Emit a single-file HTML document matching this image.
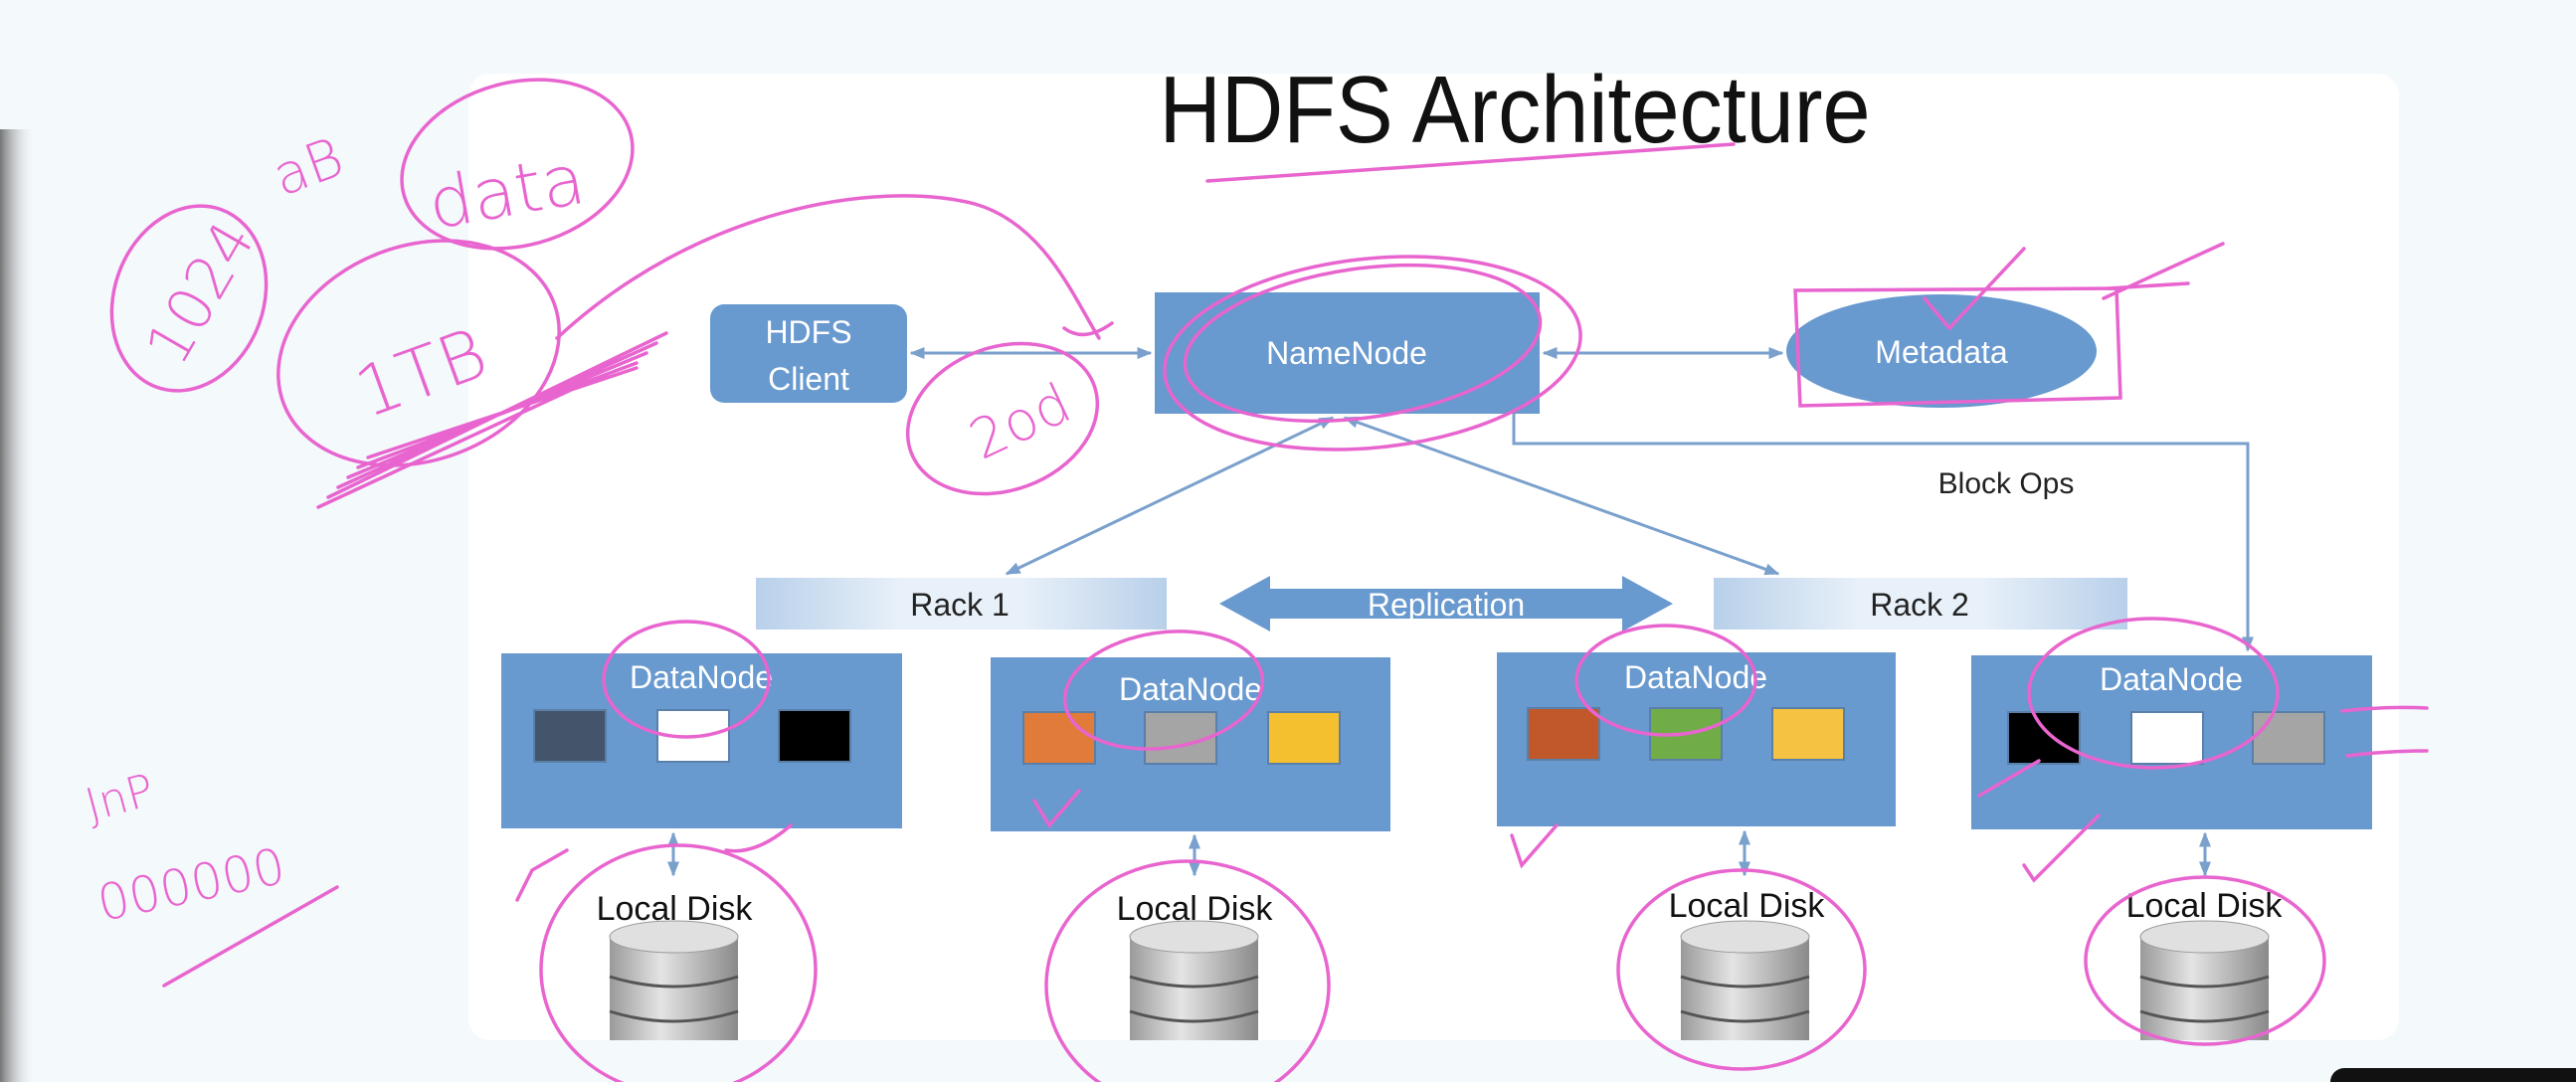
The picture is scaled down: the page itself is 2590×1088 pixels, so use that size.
<!DOCTYPE html>
<html><head><meta charset="utf-8"><style>
html,body{margin:0;padding:0;width:2590px;height:1088px;overflow:hidden;background:#f4f9fc}
svg{display:block}
</style></head><body>
<svg width="2590" height="1088" viewBox="0 0 2590 1088" xmlns="http://www.w3.org/2000/svg">
<defs>
<linearGradient id="lg" x1="0" x2="1"><stop offset="0" stop-color="#555"/><stop offset="1" stop-color="#f4f9fc" stop-opacity="0"/></linearGradient>
<linearGradient id="rack" x1="0" x2="1"><stop offset="0" stop-color="#b8d0ea"/><stop offset="0.35" stop-color="#e8f0f9"/><stop offset="0.65" stop-color="#e8f0f9"/><stop offset="1" stop-color="#b8d0ea"/></linearGradient>
<linearGradient id="disk" x1="0" x2="1"><stop offset="0" stop-color="#9a9a9a"/><stop offset="0.4" stop-color="#e4e4e4"/><stop offset="1" stop-color="#8a8a8a"/></linearGradient>
<marker id="ar" viewBox="0 0 10 10" refX="9" refY="5" markerWidth="5" markerHeight="5" orient="auto-start-reverse"><path d="M0,1 L10,5 L0,9 z" fill="#7aa0cc"/></marker>
</defs>
<rect x="0" y="130" width="36" height="958" fill="url(#lg)" opacity="0.8"/>
<rect x="471" y="74" width="1941" height="972" rx="22" fill="#ffffff"/>
<text x="1523" y="143" font-family="Liberation Sans, sans-serif" font-size="96" text-anchor="middle" fill="#111" textLength="715" lengthAdjust="spacingAndGlyphs">HDFS Architecture</text>

<g stroke="#7aa0cc" stroke-width="3" fill="none">
<line x1="916" y1="355" x2="1157" y2="355" marker-start="url(#ar)" marker-end="url(#ar)"/>
<line x1="1552" y1="355" x2="1792" y2="355" marker-start="url(#ar)" marker-end="url(#ar)"/>
<polyline points="1522,416 1522,446 2260,446 2260,654" marker-end="url(#ar)"/>
<line x1="1340" y1="420" x2="1012" y2="577" marker-start="url(#ar)" marker-end="url(#ar)"/>
<line x1="1352" y1="420" x2="1788" y2="577" marker-start="url(#ar)" marker-end="url(#ar)"/>
<line x1="677" y1="838" x2="677" y2="880" marker-start="url(#ar)" marker-end="url(#ar)"/>
<line x1="1201" y1="840" x2="1201" y2="880" marker-start="url(#ar)" marker-end="url(#ar)"/>
<line x1="1754" y1="836" x2="1754" y2="880" marker-start="url(#ar)" marker-end="url(#ar)"/>
<line x1="2217" y1="838" x2="2217" y2="880" marker-start="url(#ar)" marker-end="url(#ar)"/>
</g>
<text x="2017" y="496" font-family="Liberation Sans, sans-serif" font-size="30" text-anchor="middle" fill="#222">Block Ops</text>

<g fill="#6899cf">
<rect x="714" y="306" width="198" height="99" rx="14"/>
<rect x="1161" y="294" width="387" height="122"/>
<ellipse cx="1952" cy="353" rx="156" ry="57"/>
<rect x="504" y="657" width="403" height="176"/>
<rect x="996" y="661" width="402" height="175"/>
<rect x="1505" y="656" width="401" height="175"/>
<rect x="1982" y="659" width="403" height="175"/>
<path d="M1226,607 L1277,579 L1277,592 L1631,592 L1631,579 L1682,607 L1631,635 L1631,622 L1277,622 L1277,635 z"/>
</g>
<g font-family="Liberation Sans, sans-serif" fill="#fff" text-anchor="middle" font-size="32">
<text x="813" y="345">HDFS</text><text x="813" y="392">Client</text>
<text x="1354" y="366">NameNode</text>
<text x="1952" y="365">Metadata</text>
<text x="1454" y="619" font-size="32">Replication</text>
<text x="705" y="692">DataNode</text>
<text x="1197" y="704">DataNode</text>
<text x="1705" y="692">DataNode</text>
<text x="2183" y="694">DataNode</text>
</g>
<rect x="760" y="581" width="413" height="52" fill="url(#rack)"/>
<rect x="1723" y="581" width="416" height="52" fill="url(#rack)"/>
<g font-family="Liberation Sans, sans-serif" font-size="32" fill="#222" text-anchor="middle">
<text x="965" y="619">Rack 1</text><text x="1930" y="619">Rack 2</text>
</g>
<g stroke="#5a7fa8" stroke-width="2">
<rect x="537" y="714" width="72" height="52" fill="#44546a"/>
<rect x="661" y="714" width="72" height="52" fill="#ffffff"/>
<rect x="783" y="714" width="72" height="52" fill="#000000"/>
<rect x="1029" y="716" width="72" height="52" fill="#e07b39"/>
<rect x="1151" y="716" width="72" height="52" fill="#a5a5a5"/>
<rect x="1275" y="716" width="72" height="52" fill="#f4c030"/>
<rect x="1536" y="712" width="72" height="52" fill="#c0582a"/>
<rect x="1659" y="712" width="72" height="52" fill="#70ad47"/>
<rect x="1782" y="712" width="72" height="52" fill="#f5c242"/>
<rect x="2019" y="716" width="72" height="52" fill="#000000"/>
<rect x="2143" y="716" width="72" height="52" fill="#ffffff"/>
<rect x="2265" y="716" width="72" height="52" fill="#a5a5a5"/>
</g>
<g font-family="Liberation Sans, sans-serif" font-size="34" fill="#111" text-anchor="middle">
<text x="678" y="925">Local Disk</text><text x="1201" y="925">Local Disk</text>
<text x="1756" y="922">Local Disk</text><text x="2216" y="922">Local Disk</text>
</g>
<g>
<g transform="translate(613,942)"><rect width="129" height="104" fill="url(#disk)"/><ellipse cx="64.5" cy="0" rx="64.5" ry="16" fill="#e0e0e0" stroke="#999"/><path d="M0,40 Q64,60 129,40 M0,75 Q64,95 129,75" stroke="#555" stroke-width="3" fill="none"/></g>
<g transform="translate(1136,942)"><rect width="129" height="104" fill="url(#disk)"/><ellipse cx="64.5" cy="0" rx="64.5" ry="16" fill="#e0e0e0" stroke="#999"/><path d="M0,40 Q64,60 129,40 M0,75 Q64,95 129,75" stroke="#555" stroke-width="3" fill="none"/></g>
<g transform="translate(1690,942)"><rect width="129" height="104" fill="url(#disk)"/><ellipse cx="64.5" cy="0" rx="64.5" ry="16" fill="#e0e0e0" stroke="#999"/><path d="M0,40 Q64,60 129,40 M0,75 Q64,95 129,75" stroke="#555" stroke-width="3" fill="none"/></g>
<g transform="translate(2152,942)"><rect width="129" height="104" fill="url(#disk)"/><ellipse cx="64.5" cy="0" rx="64.5" ry="16" fill="#e0e0e0" stroke="#999"/><path d="M0,40 Q64,60 129,40 M0,75 Q64,95 129,75" stroke="#555" stroke-width="3" fill="none"/></g>
</g>
<rect x="471" y="1046" width="1941" height="42" fill="#f4f9fc"/>
<rect x="2343" y="1074" width="260" height="30" rx="14" fill="#111"/>

<g stroke="#e865cf" stroke-width="3.5" fill="none" stroke-linecap="round">
<ellipse cx="190" cy="300" rx="75" ry="95" transform="rotate(20 190 300)"/>
<ellipse cx="520" cy="165" rx="118" ry="82" transform="rotate(-15 520 165)"/>
<ellipse cx="421" cy="355" rx="145" ry="108" transform="rotate(-20 421 355)"/>
<ellipse cx="1008" cy="421" rx="98" ry="72" transform="rotate(-20 1008 421)"/>
<path d="M560,340 C700,210 880,180 980,205 C1050,225 1080,300 1105,340 M1070,330 Q1090,345 1118,325"/>
<ellipse cx="1380" cy="355" rx="210" ry="95" transform="rotate(-6 1380 355)"/>
<ellipse cx="1370" cy="345" rx="180" ry="75" transform="rotate(-8 1370 345)"/>
<path d="M1805,292 L2128,290 L2132,400 L1810,408 Z"/>
<path d="M1935,300 L1960,330 L2035,250 M2115,300 L2235,245 M2120,290 L2200,285"/>
<path d="M1214,182 Q1450,165 1743,145"/>
<path d="M330,500 L670,335 M340,490 L660,345 M350,480 L650,355 M360,470 L640,365 M370,460 L640,370 M320,510 L600,380"/>
<path d="M165,991 L339,892"/>
<ellipse cx="682" cy="975" rx="138" ry="125"/>
<ellipse cx="1194" cy="991" rx="142" ry="125"/>
<ellipse cx="1751" cy="975" rx="124" ry="100"/>
<ellipse cx="2217" cy="966" rx="120" ry="84"/>
<ellipse cx="690" cy="683" rx="83" ry="58"/>
<ellipse cx="1170" cy="694" rx="100" ry="58" transform="rotate(-8 1170 694)"/>
<ellipse cx="1675" cy="684" rx="90" ry="55"/>
<ellipse cx="2165" cy="697" rx="125" ry="75"/>
<path d="M520,905 L535,875 L570,855 M1040,805 L1055,830 L1085,795 M1520,840 L1530,870 L1565,830 M2035,870 L2045,885 L2110,820 M1990,800 L2050,765 M730,855 Q760,860 795,830 M2355,715 Q2400,710 2440,712 M2360,760 Q2400,755 2440,755"/>
</g>
<g font-family="DejaVu Sans, sans-serif" fill="#e865cf" font-weight="200">
<text x="140" y="360" font-size="60" transform="rotate(-60 170 330)">1024</text>
<text x="275" y="190" font-size="55" transform="rotate(-20 300 170)">aB</text>
<text x="430" y="215" font-size="70" transform="rotate(-10 520 190)">data</text>
<text x="355" y="400" font-size="70" transform="rotate(-20 420 370)">1TB</text>
<text x="975" y="450" font-size="55" transform="rotate(-25 1010 430)">2od</text>
<text x="85" y="820" font-size="45" transform="rotate(-15 110 800)">JnP</text>
<text x="95" y="905" font-size="50" transform="rotate(-12 200 880)">000000</text>
</g>
</svg>
</body></html>
